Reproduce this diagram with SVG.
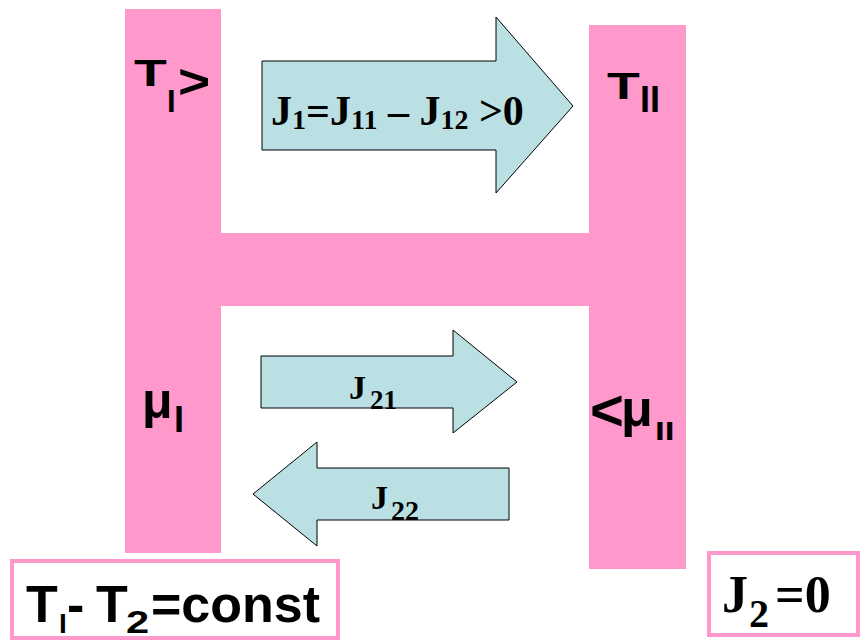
<svg xmlns="http://www.w3.org/2000/svg" width="862" height="641" viewBox="0 0 862 641">
<style>
.bar{fill:#FF99CC;}
.arr{fill:#BBE0E3;stroke:#000;stroke-width:1;}
.sans{font-family:"Liberation Sans",Arial,sans-serif;font-weight:bold;fill:#000;}
.serif{font-family:"Liberation Serif","Times New Roman",serif;font-weight:bold;fill:#000;}
.box{fill:#fff;stroke:#FF99CC;stroke-width:4;}
</style>
<rect width="862" height="641" fill="#fff"/>
<g id="left-bar">
<rect class="bar" x="125" y="9" width="96" height="544"/>
<text class="sans" font-size="44" transform="translate(134,86) scale(1.22,0.82)">T</text>
<text class="sans" font-size="31" x="167" y="112">I</text>
<text class="sans" font-size="48" transform="translate(178,98) scale(1.15,1)">&gt;</text>
<text class="sans" font-size="50" x="142" y="418">μ</text>
<text class="sans" font-size="36" x="174" y="432">I</text>
</g>
<g id="right-bar">
<rect class="bar" x="589" y="25" width="97" height="544"/>
<text class="sans" font-size="44" transform="translate(607,99) scale(1.22,0.82)">T</text>
<text class="sans" font-size="36" x="640" y="112">II</text>
<text class="sans" font-size="58" x="590" y="430">&lt;</text>
<text class="sans" font-size="52" x="621" y="426">μ</text>
<text class="sans" font-size="26" transform="translate(655,440) scale(1.35,1)">II</text>
</g>
<g id="cross-bar">
<rect class="bar" x="220" y="233" width="370" height="73"/>
</g>
<g id="connectors">
<g id="arrow-J1">
<polygon class="arr" points="262,61 496,61 496,17 573,106 496,193 496,150 262,150"/>
<text class="serif" font-size="42" x="271" y="125">J<tspan font-size="28" dy="4">1</tspan><tspan dy="-4">=J</tspan><tspan font-size="28" dy="4">11</tspan><tspan dy="-4"> – J</tspan><tspan font-size="28" dy="4">12</tspan><tspan dy="-4"> &gt;0</tspan></text>
</g>
<g id="arrow-J21">
<polygon class="arr" points="261,356 453,356 453,330 517,382 453,433 453,408 261,408"/>
<text class="serif" font-size="34" x="349" y="399">J<tspan font-size="27" x="370" y="409">21</tspan></text>
</g>
<g id="arrow-J22">
<polygon class="arr" points="253,494 317,442 317,468 509,468 509,520 317,520 317,546"/>
<text class="serif" font-size="34" x="371" y="509">J<tspan font-size="28" x="391" y="520">22</tspan></text>
</g>
</g>
<g id="box-T">
<rect class="box" x="12" y="561" width="326" height="77"/>
<text class="sans" font-size="52"><tspan x="26" y="622">T</tspan><tspan x="59" y="633" font-size="28">I</tspan><tspan x="67" y="622">-</tspan><tspan x="96" y="622">T</tspan></text>
<text class="sans" font-size="32" transform="translate(126,633) scale(1.3,1)">2</text>
<text class="sans" font-size="52" x="151" y="622">=const</text>
</g>
<g id="box-J2">
<rect class="box" x="709" y="553" width="149" height="82"/>
<text class="serif" font-size="52"><tspan x="722" y="612">J</tspan><tspan x="749" y="627" font-size="40">2</tspan><tspan x="775" y="612">=0</tspan></text>
</g>
</svg>
